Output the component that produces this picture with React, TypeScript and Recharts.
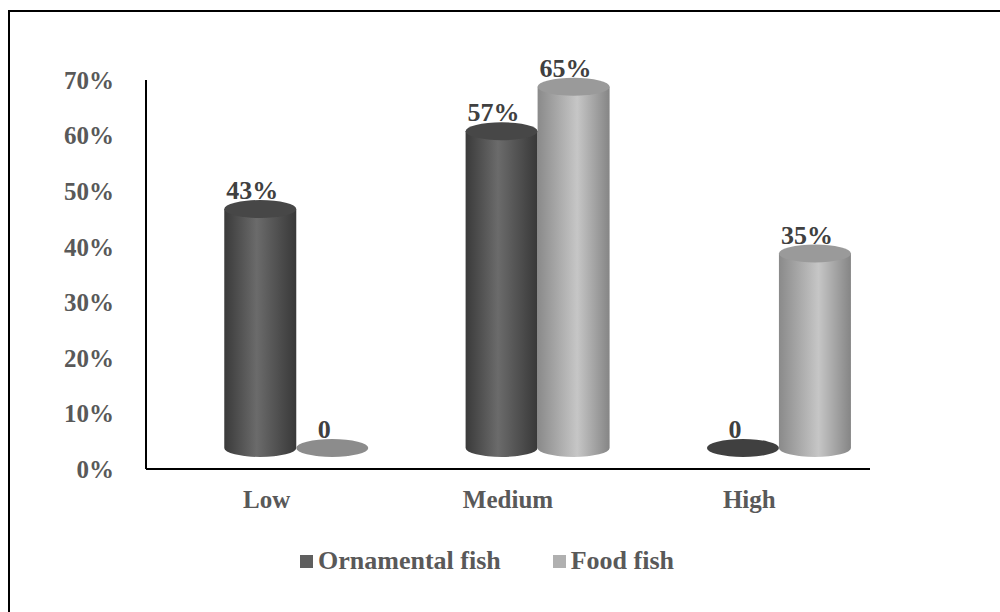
import React from "react";
import { BarChart, Bar, XAxis, YAxis, Legend, LabelList } from "recharts";

const categories = ["Low", "Medium", "High"];
const ornamentalFish = [0.43, 0.57, 0];
const foodFish = [0, 0.65, 0.35];
const yTicks = [0, 0.1, 0.2, 0.3, 0.4, 0.5, 0.6, 0.7];

const chartData = categories.map((name, i) => ({
	name,
	ornamental: ornamentalFish[i],
	food: foodFish[i],
}));

const FONT = '"Liberation Serif", "Times New Roman", serif';
// 3D offset of the cylinders relative to the axis scale
const DX = 30;
const DY = -21;
const RY = 9;

const STYLES = {
	ornamental: { grad: "gradOrn", top: "#474747", flat: "#404040", legend: "#5f5f5f" },
	food: { grad: "gradFood", top: "#9a9a9a", flat: "#8c8c8c", legend: "#b0b0b0" },
};

const makeCylinder = (kind: "ornamental" | "food") => (props: any) => {
	const { x, y, width, height } = props;
	const s = STYLES[kind];
	const rx = width / 2;
	const cx = x + rx + DX;
	const bottom = y + height + DY;
	const top = y + DY;
	if (!height || height < 1) {
		return <ellipse cx={cx} cy={bottom} rx={rx} ry={RY} fill={s.flat} />;
	}
	const body = `M${cx - rx},${top} L${cx - rx},${bottom} A${rx},${RY} 0 0 0 ${cx + rx},${bottom} L${cx + rx},${top} Z`;
	return (
		<g>
			<path d={body} fill={`url(#${s.grad})`} />
			<ellipse cx={cx} cy={top} rx={rx} ry={RY} fill={s.top} />
		</g>
	);
};

const renderLabel = (props: any) => {
	const { x, y, width, value } = props;
	const text = value === 0 ? "0" : `${Math.round(value * 100)}%`;
	return (
		<text
			x={x + width / 2 + DX - 8}
			y={y + DY - 10}
			textAnchor="middle"
			fontFamily={FONT}
			fontWeight="bold"
			fontSize={26}
			fill="#404040"
		>
			{text}
		</text>
	);
};

const XTick = (props: any) => {
	const { x, y, payload } = props;
	return (
		<text x={x} y={y + 31} textAnchor="middle" fontFamily={FONT} fontWeight="bold" fontSize={25} fill="#595959">
			{payload.value}
		</text>
	);
};

const renderLegend = () => (
	<div style={{ display: "flex", height: 30, alignItems: "center", paddingLeft: 300, fontFamily: FONT, fontWeight: "bold", fontSize: 26, color: "#595959" }}>
		<span style={{ width: 13, height: 13, background: STYLES.ornamental.legend, marginRight: 5 }} />
		<span>Ornamental fish</span>
		<span style={{ width: 13, height: 13, background: STYLES.food.legend, marginLeft: 52, marginRight: 5 }} />
		<span>Food fish</span>
	</div>
);

export default function App() {
	return (
		<div style={{ position: "absolute", left: 0, top: 0, width: 1000, height: 612, background: "#fff" }}>
			<div style={{ position: "absolute", left: 8, top: 10, width: 990, height: 602, borderTop: "2px solid #000", borderLeft: "2px solid #000" }} />
			<div style={{ position: "absolute", left: 0, top: 0 }}>
				<BarChart
					width={1000}
					height={612}
					data={chartData}
					margin={{ top: 80, right: 130, left: 0, bottom: 36 }}
					barCategoryGap="20%"
					barGap={0}
				>
					<defs>
						<linearGradient id="gradOrn" x1="0" y1="0" x2="1" y2="0">
							<stop offset="0%" stopColor="#3a3a3a" />
							<stop offset="45%" stopColor="#6b6b6b" />
							<stop offset="100%" stopColor="#383838" />
						</linearGradient>
						<linearGradient id="gradFood" x1="0" y1="0" x2="1" y2="0">
							<stop offset="0%" stopColor="#8a8a8a" />
							<stop offset="55%" stopColor="#c6c6c6" />
							<stop offset="100%" stopColor="#858585" />
						</linearGradient>
					</defs>
					<XAxis
						dataKey="name"
						height={77}
						axisLine={{ stroke: "#000", strokeWidth: 2 }}
						tickLine={false}
						tick={<XTick />}
					/>
					<YAxis
						width={146}
						domain={[0, 0.7]}
						ticks={yTicks}
						interval={0}
						axisLine={{ stroke: "#000", strokeWidth: 2 }}
						tickLine={false}
						tickMargin={26}
						tickFormatter={(v: number) => `${Math.round(v * 100)}%`}
						tick={{ fontFamily: FONT, fontWeight: "bold", fontSize: 25, fill: "#595959" }}
					/>
					<Legend verticalAlign="bottom" height={30} content={renderLegend} />
					<Bar dataKey="ornamental" name="Ornamental fish" shape={makeCylinder("ornamental")} isAnimationActive={false}>
						<LabelList dataKey="ornamental" content={renderLabel} />
					</Bar>
					<Bar dataKey="food" name="Food fish" shape={makeCylinder("food")} isAnimationActive={false}>
						<LabelList dataKey="food" content={renderLabel} />
					</Bar>
				</BarChart>
			</div>
		</div>
	);
}
